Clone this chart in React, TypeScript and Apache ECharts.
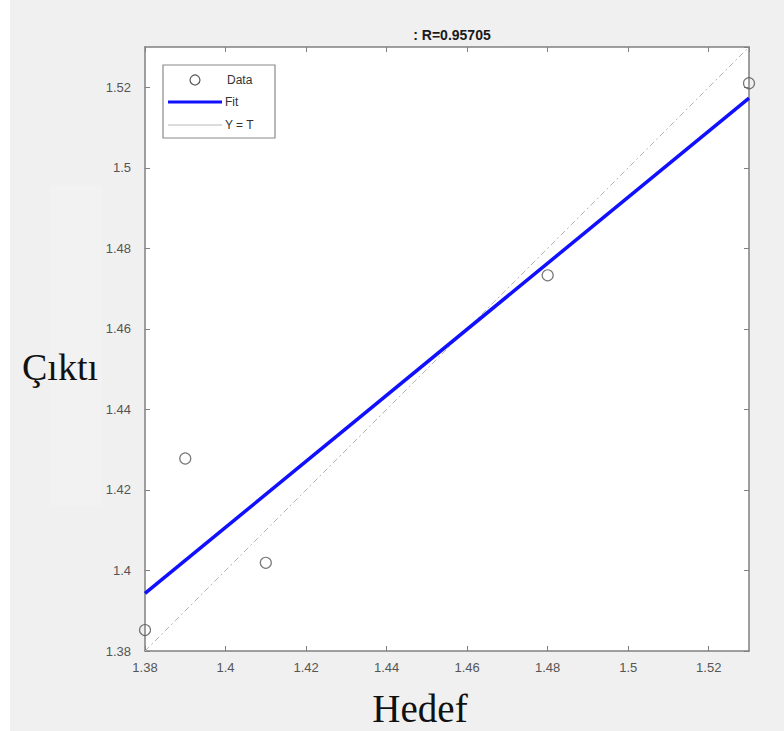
import React, { useEffect, useRef } from "react";
import * as echarts from "echarts";

const dataX = [1.38, 1.39, 1.41, 1.48, 1.53];
const dataY = [1.3852, 1.4278, 1.4019, 1.4733, 1.521];
const fitX = [1.38, 1.53];
const fitY = [1.3943, 1.5173];
const identityX = [1.38, 1.53];
const identityY = [1.38, 1.53];
const axisMin = 1.38;
const axisMax = 1.53;
const tickStep = 0.02;
const titleText = ": R=0.95705";
const xName = "Hedef";
const yName = "Çıktı";
const legendNames = ["Data", "Fit", "Y = T"];

const GL = 145, GT = 47, GW = 604, GH = 604;

function fmt(v: number) {
  const k = v / tickStep;
  if (Math.abs(k - Math.round(k)) > 1e-6) return "";
  return String(parseFloat(v.toFixed(2)));
}

export default function App() {
  const ref = useRef<HTMLDivElement>(null);
  useEffect(() => {
    if (!ref.current) return;
    const chart = echarts.init(ref.current, null, { renderer: "svg" });
    const axisColor = "#808080";
    const labelStyle = { color: "#555555", fontSize: 13, fontFamily: "Liberation Sans, Arial, sans-serif" };
    const base = {
      type: "value" as const,
      min: axisMin,
      max: axisMax,
      interval: tickStep,
      splitLine: { show: false },
      axisLine: { show: true, lineStyle: { color: axisColor, width: 1.5 } },
      axisTick: { show: true, inside: true, length: 5, lineStyle: { color: axisColor, width: 1 } },
    };
    const lx = 163, ly = 65;
    chart.setOption({
      animation: false,
      backgroundColor: "#f0f0f0",
      title: {
        text: titleText,
        left: GL + GW / 2,
        textAlign: "center",
        top: 23,
        textStyle: { fontSize: 14, fontWeight: "bold", color: "#1a1a1a", fontFamily: "Liberation Sans, Arial, sans-serif" },
      },
      grid: { left: GL, top: GT, width: GW, height: GH, show: true, backgroundColor: "#ffffff", borderWidth: 0 },
      xAxis: [
        { ...base, position: "bottom", axisLabel: { ...labelStyle, margin: 10, formatter: fmt, showMaxLabel: false } },
        { ...base, position: "top", axisLabel: { show: false } },
      ],
      yAxis: [
        { ...base, position: "left", axisLabel: { ...labelStyle, margin: 14, formatter: fmt, showMaxLabel: false } },
        { ...base, position: "right", axisLabel: { show: false } },
      ],
      series: [
        {
          name: legendNames[2],
          type: "line",
          data: identityX.map((x, i) => [x, identityY[i]]),
          showSymbol: false,
          lineStyle: { color: "#b4b4b4", width: 1, type: [6, 3, 2, 3] },
          z: 2,
        },
        {
          name: legendNames[1],
          type: "line",
          data: fitX.map((x, i) => [x, fitY[i]]),
          showSymbol: false,
          lineStyle: { color: "#1010ff", width: 3.5 },
          z: 3,
        },
        {
          name: legendNames[0],
          type: "scatter",
          data: dataX.map((x, i) => [x, dataY[i]]),
          symbol: "circle",
          symbolSize: 11,
          clip: false,
          itemStyle: { color: "rgba(255,255,255,0)", borderColor: "#555555", borderWidth: 1.2 },
          z: 4,
        },
      ],
      graphic: [
        { type: "rect", left: 0, top: 0, shape: { width: 10, height: 731 }, style: { fill: "#ffffff" }, z: -1 },
        { type: "rect", left: 50, top: 185, shape: { width: 52, height: 320 }, style: { fill: "#f2f2f2" }, z: -1 },
        {
          type: "text",
          left: 22,
          top: 348,
          style: { text: yName, fontSize: 38, fontFamily: "Liberation Serif, Times New Roman, serif", fill: "#111111" },
        },
        {
          type: "text",
          x: GL + GW / 2 - 27,
          y: 708,
          style: { text: xName, fontSize: 39, fontFamily: "Liberation Serif, Times New Roman, serif", fill: "#111111", align: "center", verticalAlign: "middle" },
        },
        {
          type: "group",
          x: lx,
          y: ly,
          children: [
            { type: "rect", shape: { x: 0, y: 0, width: 112, height: 73 }, style: { fill: "#ffffff", stroke: "#8a8a8a", lineWidth: 1.2 } },
            { type: "circle", shape: { cx: 32, cy: 15, r: 5 }, style: { fill: "none", stroke: "#555555", lineWidth: 1.2 } },
            { type: "text", x: 64, y: 15, style: { text: legendNames[0], fontSize: 12, fill: "#333333", fontFamily: "Liberation Sans, Arial, sans-serif", verticalAlign: "middle" } },
            { type: "line", shape: { x1: 5, y1: 37, x2: 59, y2: 37 }, style: { stroke: "#1010ff", lineWidth: 3 } },
            { type: "text", x: 62, y: 37, style: { text: legendNames[1], fontSize: 12, fill: "#333333", fontFamily: "Liberation Sans, Arial, sans-serif", verticalAlign: "middle" } },
            { type: "line", shape: { x1: 5, y1: 60, x2: 59, y2: 60 }, style: { stroke: "#b8b8b8", lineWidth: 1 } },
            { type: "text", x: 62, y: 60, style: { text: legendNames[2], fontSize: 12, fill: "#333333", fontFamily: "Liberation Sans, Arial, sans-serif", verticalAlign: "middle" } },
          ],
        },
      ],
    });
    return () => chart.dispose();
  }, []);
  return <div ref={ref} style={{ position: "fixed", left: 0, top: 0, width: 784, height: 731 }} />;
}
